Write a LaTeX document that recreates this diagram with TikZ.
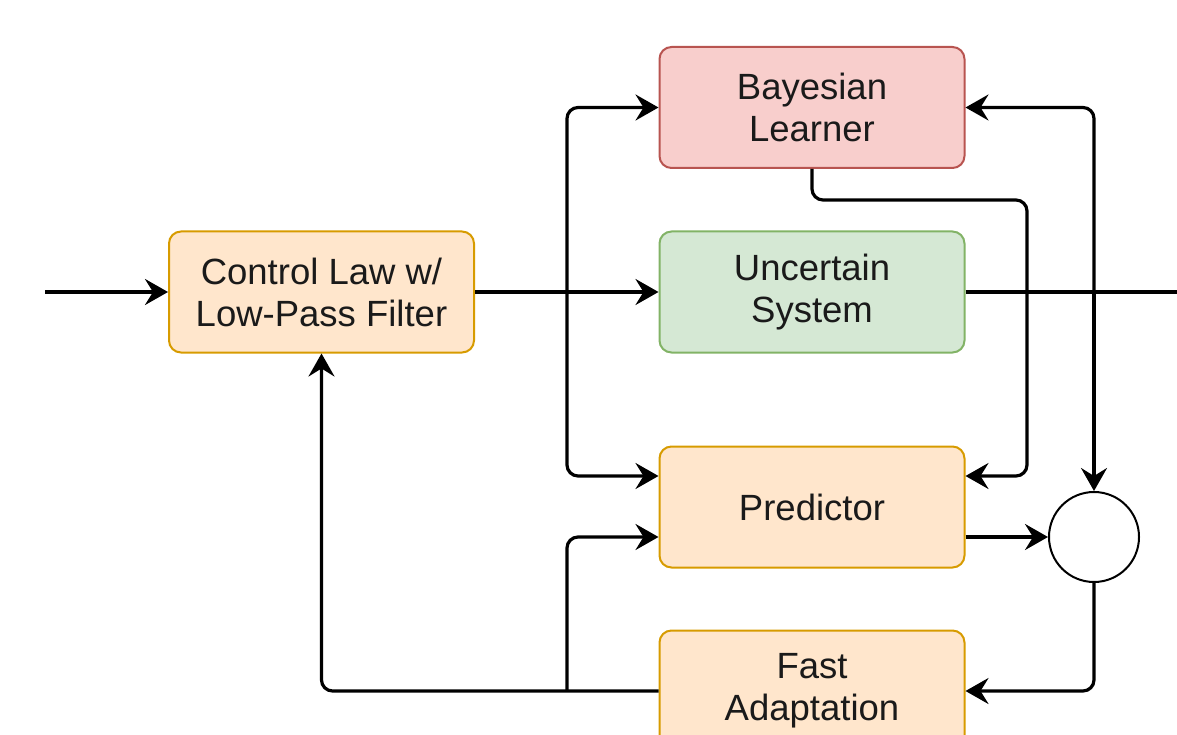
\documentclass[tikz,border=0pt]{standalone}
\usepackage{fontspec}
\setmainfont{Liberation Sans}
\usetikzlibrary{arrows.meta,calc}
\definecolor{redfill}{HTML}{F8CECC}
\definecolor{redline}{HTML}{B85450}
\definecolor{greenfill}{HTML}{D5E8D4}
\definecolor{greenline}{HTML}{82B366}
\definecolor{orangefill}{HTML}{FFE6CC}
\definecolor{orangeline}{HTML}{D79B00}
\definecolor{textcol}{HTML}{1A1A1A}
\begin{document}
\begin{tikzpicture}[x=1pt,y=-1pt,
  block/.style={rectangle, rounded corners=12pt, line width=2pt, minimum width=305pt, minimum height=121pt, align=center, inner sep=0pt, text=textcol, font=\fontsize{36.5}{42}\selectfont},
  redbox/.style={block, fill=redfill, draw=redline},
  greenbox/.style={block, fill=greenfill, draw=greenline},
  orangebox/.style={block, fill=orangefill, draw=orangeline},
  conn/.style={line width=3.2pt, rounded corners=11pt},
  arr/.style={conn, -{Stealth[length=23pt,width=26pt,inset=8pt]}}]
\useasboundingbox (0,0) rectangle (1177,735);
\clip (0,0) rectangle (1177,735);
\node[orangebox] (ctrl) at (321.5,292) {Control Law w/\\Low-Pass Filter};
\node[redbox] (bayes) at (812,107.5) {Bayesian\\Learner};
\node[greenbox] (unc) at (812,292) {Uncertain\\System};
\node[orangebox] (pred) at (812,507) {Predictor};
\node[orangebox] (fast) at (812,691) {Fast\\Adaptation};
\node[circle, draw=black, line width=2pt, fill=white, minimum size=90pt, inner sep=0pt] (sum) at (1094,537) {};
\coordinate (in) at (45,292);
\coordinate (out) at (1180,292);
\coordinate (j1) at (567,292);
\coordinate (j2) at (1094,292);
\coordinate (j3) at (567,691);
\coordinate (b1) at (1027,200);
\draw[arr] (in) -- (ctrl.west);
\draw[arr] (ctrl.east) -- (unc.west);
\draw[arr] (j1) |- (bayes.west);
\draw[arr] (j1) |- ([yshift=31pt]pred.west);
\draw[conn] (unc.east) -- (out);
\draw[arr] (j2) |- (bayes.east);
\draw[arr] (j2) -- (sum.north);
\draw[arr] (bayes.south) |- (b1) |- ([yshift=31pt]pred.east);
\draw[arr] ([yshift=-30pt]pred.east) -- (sum.west);
\draw[arr] (sum.south) |- (fast.east);
\draw[arr] (fast.west) -| (ctrl.south);
\draw[arr] (j3) |- ([yshift=-30pt]pred.west);
\end{tikzpicture}
\end{document}
